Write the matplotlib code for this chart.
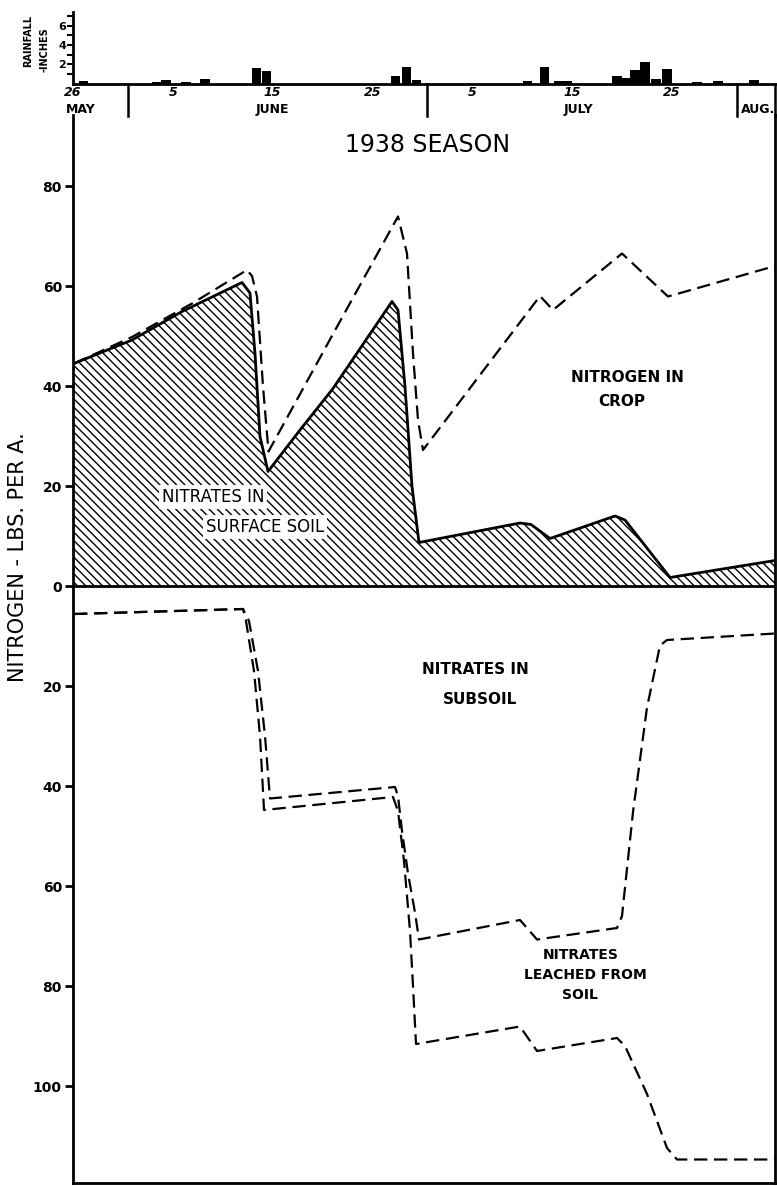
import matplotlib
matplotlib.use("Agg")
import matplotlib.pyplot as plt
import matplotlib.transforms as mtransforms

# days counted from 26 May 1938 (day 0)
rain_day = [1.05, 8.4, 9.3, 11.3, 13.2, 18.4, 19.4, 32.3, 33.4, 34.4, 45.5, 47.2,
            48.6, 49.5, 54.5, 55.4, 56.3, 57.3, 58.4, 59.5, 62.5, 64.6, 68.2]
rain_in = [0.3, 0.2, 0.35, 0.15, 0.45, 1.6, 1.25, 0.75, 1.7, 0.4, 0.3, 1.75,
           0.3, 0.3, 0.8, 0.6, 1.35, 2.2, 0.5, 1.55, 0.2, 0.3, 0.35]

surf_day = [0.2, 6.0, 11.0, 17.0, 17.8, 18.3, 18.8, 19.6, 22.8, 26.1, 32.0, 32.6,
            33.3, 34.0, 34.7, 44.8, 45.9, 47.8, 54.3, 55.3, 59.8, 70.3]
surf_n = [44.5, 49.2, 54.9, 60.7, 58.6, 46.5, 29.9, 22.9, 31.2, 39.5, 56.9, 55.2,
          39.9, 19.9, 8.7, 12.6, 12.3, 9.5, 14.0, 13.2, 1.7, 5.1]

crop_day = [0.2, 6.0, 12.0, 17.5, 18.0, 18.5, 19.1, 19.65, 26.1, 32.6, 33.5, 34.1,
            34.6, 35.1, 46.8, 48.1, 55.0, 59.6, 70.3]
crop_n = [44.5, 49.8, 56.5, 63.2, 62.0, 57.9, 39.9, 26.9, 50.4, 73.9, 66.5, 46.5,
          33.2, 27.2, 58.0, 55.2, 66.5, 57.9, 64.0]

subsoil_day = [0.2, 17.1, 17.7, 18.6, 19.3, 19.8, 32.3, 32.6, 33.0, 33.6, 34.3, 34.7,
               44.8, 46.5, 54.5, 55.0, 56.1, 57.5, 58.8, 59.5, 70.3]
subsoil_n = [5.6, 4.6, 7.0, 17.0, 30.0, 42.5, 40.2, 42.0, 49.0, 57.5, 65.3, 70.7,
             66.8, 70.7, 68.4, 66.0, 45.2, 24.3, 11.9, 10.8, 9.5]

leach_day = [0.2, 17.1, 17.4, 18.2, 18.8, 19.2, 32.1, 32.6, 33.2, 33.8, 34.1, 34.4,
             44.8, 46.5, 54.5, 55.3, 57.5, 59.5, 60.5, 70.3]
leach_n = [5.6, 4.6, 7.0, 17.0, 30.0, 44.8, 42.2, 45.0, 55.0, 69.0, 80.0, 91.6,
           88.1, 93.0, 90.4, 92.0, 101.6, 112.4, 114.7, 114.7]

day_ticks = [0, 10, 20, 30, 40, 50, 60]
day_labels = ["26", "5", "15", "25", "5", "15", "25"]
month_bounds = [5.5, 35.5, 66.5, 70.25]
months = [(0.8, "MAY"), (20, "JUNE"), (50.6, "JULY"), (68.6, "AUG.")]
n_ticks = [80, 60, 40, 20, 0, -20, -40, -60, -80, -100]

W, H = 777, 1186
fig = plt.figure(figsize=(W / 100, H / 100), dpi=100)
plt.rcParams["hatch.linewidth"] = 1.0
xlim = (0.1, 70.3)

# nitrogen chart (drawn first so the rainfall strip labels sit on top)
ax = fig.add_axes([73 / W, 3 / H, 702 / W, 1068 / H])
ax.patch.set_visible(False)
ax.fill_between(surf_day, surf_n, 0, facecolor="white", edgecolor="black",
                hatch="\\\\\\\\", linewidth=0)
ax.plot(surf_day, surf_n, color="black", lw=2)
ax.plot(crop_day, crop_n, color="black", lw=1.6, dashes=(6, 3))
ax.plot(subsoil_day, [-v for v in subsoil_n], color="black", lw=1.6, dashes=(6, 3))
ax.plot(leach_day, [-v for v in leach_n], color="black", lw=1.6, dashes=(6, 3))
ax.axhline(0, color="black", lw=2)

ax.set_xlim(xlim)
ax.set_ylim(-119.4, 94.2)
ax.spines["top"].set_visible(False)
for s in ["left", "right", "bottom"]:
    ax.spines[s].set_linewidth(2)
ax.set_xticks([])
ax.set_yticks(n_ticks)
ax.set_yticklabels([str(abs(v)) for v in n_ticks], fontsize=10, fontweight="bold")
ax.tick_params(axis="y", direction="out", length=6, width=2, pad=2)

ax.text(35.6, 88.2, "1938 SEASON", ha="center", va="center", fontsize=17)
box = dict(facecolor="white", edgecolor="none", pad=2)
ax.text(14.1, 17.8, "NITRATES IN", ha="center", va="center", fontsize=12, bbox=box)
ax.text(19.3, 11.8, "SURFACE SOIL", ha="center", va="center", fontsize=12, bbox=box)
ax.text(55.5, 41.8, "NITROGEN IN", ha="center", va="center", fontsize=11,
        fontweight="bold")
ax.text(55.0, 36.8, "CROP", ha="center", va="center", fontsize=11, fontweight="bold")
ax.text(40.3, -16.6, "NITRATES IN", ha="center", va="center", fontsize=11,
        fontweight="bold")
ax.text(40.8, -22.8, "SUBSOIL", ha="center", va="center", fontsize=11,
        fontweight="bold")
ax.text(50.9, -73.8, "NITRATES", ha="center", va="center", fontsize=10,
        fontweight="bold")
ax.text(51.3, -77.8, "LEACHED FROM", ha="center", va="center", fontsize=10,
        fontweight="bold")
ax.text(50.8, -81.8, "SOIL", ha="center", va="center", fontsize=10,
        fontweight="bold")

fig.text(18 / W, 1 - 557 / H, "NITROGEN - LBS. PER A.", rotation=90, ha="center",
         va="center", fontsize=15)

# rainfall strip
axr = fig.add_axes([73 / W, 1 - 83.5 / H, 702 / W, 71.5 / H])
axr.patch.set_visible(False)
axr.bar(rain_day, rain_in, width=0.95, color="black")
axr.set_xlim(xlim)
axr.set_ylim(0, 7.4)
for s in ["top", "right"]:
    axr.spines[s].set_visible(False)
axr.spines["left"].set_linewidth(2)
axr.spines["bottom"].set_linewidth(2)
axr.set_yticks([2, 4, 6])
axr.set_yticks([1, 3, 5, 7], minor=True)
axr.tick_params(axis="y", which="both", direction="out", length=4, width=1.5,
                labelsize=8, pad=1)
for lab in axr.get_yticklabels():
    lab.set_fontweight("bold")
axr.set_xticks(day_ticks)
axr.set_xticklabels(day_labels, fontsize=9, fontweight="bold", style="italic")
axr.tick_params(axis="x", length=0, pad=2)
tr = mtransforms.blended_transform_factory(axr.transData, axr.transAxes)
for d in month_bounds:
    axr.plot([d, d], [0, -0.45], transform=tr, color="black", lw=1.8, clip_on=False)
for d, m in months:
    axr.text(d, -0.36, m, transform=tr, ha="center", va="center", fontsize=9,
             fontweight="bold")
fig.text(28 / W, 1 - 41 / H, "RAINFALL", rotation=90, ha="center", va="center",
         fontsize=7, fontweight="bold")
fig.text(44 / W, 1 - 50 / H, "-INCHES", rotation=90, ha="center", va="center",
         fontsize=7, fontweight="bold")

fig.savefig("out.png", dpi=100)
